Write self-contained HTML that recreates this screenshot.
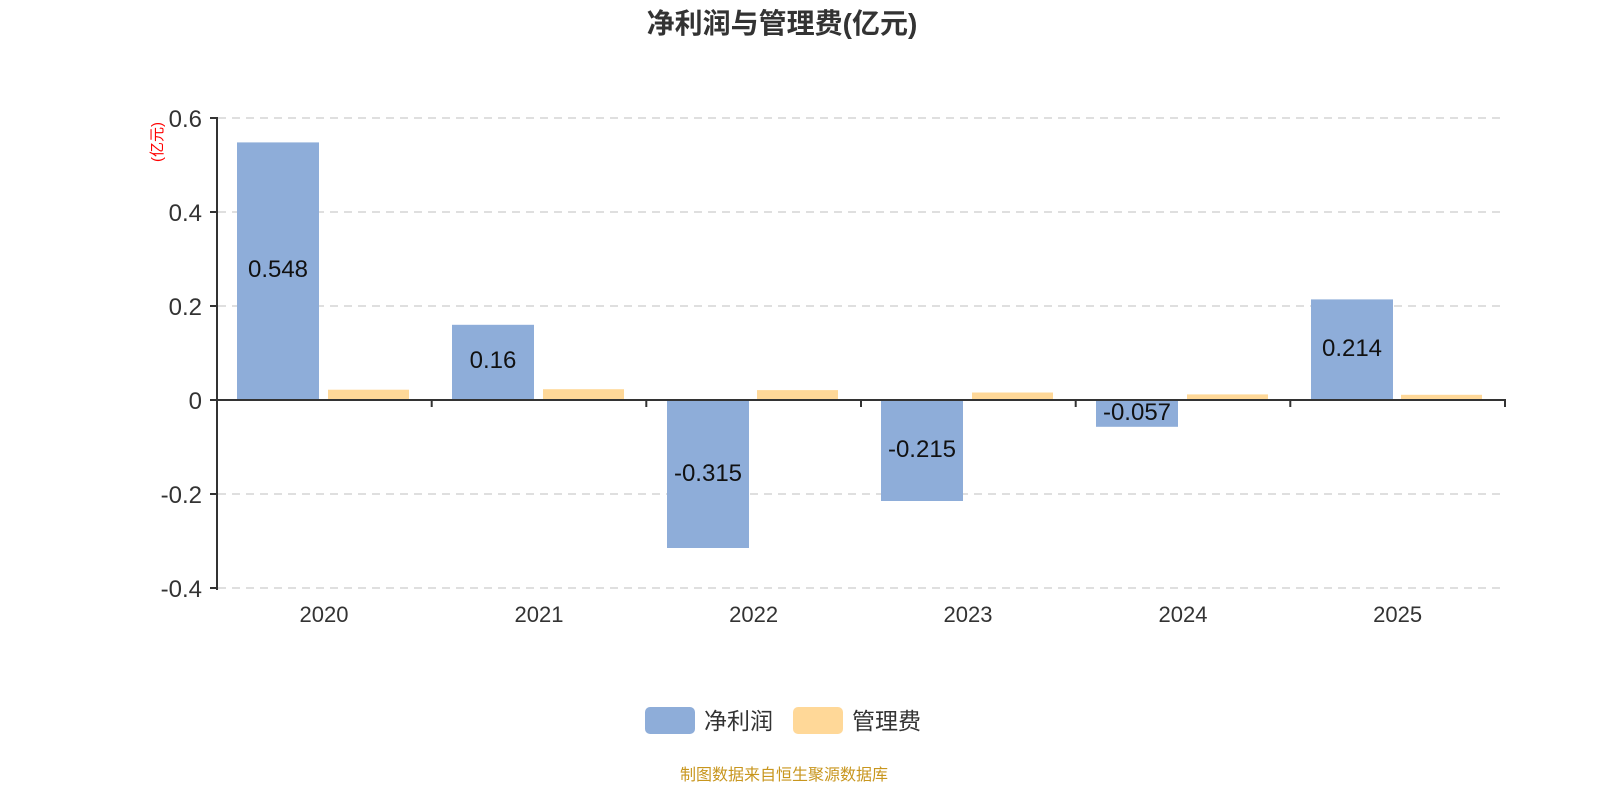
<!DOCTYPE html>
<html><head><meta charset="utf-8"><style>
body{margin:0;background:#fff;}
svg text{font-family:"Liberation Sans","Noto Sans CJK SC",sans-serif;}
</style></head><body>
<svg width="1600" height="800" viewBox="0 0 1600 800" xmlns="http://www.w3.org/2000/svg">
<text x="782" y="33" text-anchor="middle" font-size="28" font-weight="bold" fill="#333">净利润与管理费(亿元)</text>
<g stroke="#ccc" stroke-dasharray="8,6" stroke-width="1.3">
<line x1="218" y1="118" x2="1505" y2="118"/>
<line x1="218" y1="212" x2="1505" y2="212"/>
<line x1="218" y1="306" x2="1505" y2="306"/>
<line x1="218" y1="494" x2="1505" y2="494"/>
<line x1="218" y1="588" x2="1505" y2="588"/>
</g>
<g fill="#8eadd9">
<rect x="237" y="142.4" width="82" height="257.6"/>
<rect x="452" y="324.8" width="82" height="75.2"/>
<rect x="667" y="400" width="82" height="148"/>
<rect x="881" y="400" width="82" height="101"/>
<rect x="1096" y="400" width="82" height="26.8"/>
<rect x="1311" y="299.4" width="82" height="100.6"/>
</g>
<g fill="#ffd898">
<rect x="328" y="389.7" width="81" height="10.3"/>
<rect x="543" y="389.2" width="81" height="10.8"/>
<rect x="757" y="390.1" width="81" height="9.9"/>
<rect x="972" y="392.5" width="81" height="7.5"/>
<rect x="1187" y="394.4" width="81" height="5.6"/>
<rect x="1401" y="394.8" width="81" height="5.2"/>
</g>
<g stroke="#333" stroke-width="2">
<line x1="217" y1="117" x2="217" y2="590"/>
<line x1="216" y1="400" x2="1506" y2="400"/>
<line x1="210" y1="118" x2="217" y2="118"/>
<line x1="210" y1="212" x2="217" y2="212"/>
<line x1="210" y1="306" x2="217" y2="306"/>
<line x1="210" y1="400" x2="217" y2="400"/>
<line x1="210" y1="494" x2="217" y2="494"/>
<line x1="210" y1="588" x2="217" y2="588"/>
<line x1="431.7" y1="400" x2="431.7" y2="407"/>
<line x1="646.3" y1="400" x2="646.3" y2="407"/>
<line x1="861" y1="400" x2="861" y2="407"/>
<line x1="1075.7" y1="400" x2="1075.7" y2="407"/>
<line x1="1290.3" y1="400" x2="1290.3" y2="407"/>
<line x1="1505" y1="400" x2="1505" y2="407"/>
</g>
<g font-size="24" fill="#333" text-anchor="end">
<text x="202" y="127">0.6</text>
<text x="202" y="221">0.4</text>
<text x="202" y="315">0.2</text>
<text x="202" y="409">0</text>
<text x="202" y="503">-0.2</text>
<text x="202" y="597">-0.4</text>
</g>
<text transform="translate(162,142) rotate(-90)" font-size="15" fill="#f00" text-anchor="middle">(亿元)</text>
<g font-size="22" fill="#333" text-anchor="middle">
<text x="324" y="622">2020</text>
<text x="539" y="622">2021</text>
<text x="753.6" y="622">2022</text>
<text x="968" y="622">2023</text>
<text x="1183" y="622">2024</text>
<text x="1397.6" y="622">2025</text>
</g>
<g font-size="24" fill="#111" text-anchor="middle">
<text x="278" y="277">0.548</text>
<text x="493" y="368">0.16</text>
<text x="708" y="481">-0.315</text>
<text x="922" y="457">-0.215</text>
<text x="1137" y="420">-0.057</text>
<text x="1352" y="356">0.214</text>
</g>
<rect x="645" y="707" width="50" height="27" rx="5" fill="#8eadd9"/>
<text x="704" y="729" font-size="23" fill="#333">净利润</text>
<rect x="793" y="707" width="50" height="27" rx="5" fill="#ffd898"/>
<text x="852" y="729" font-size="23" fill="#333">管理费</text>
<text x="784" y="780" font-size="16" fill="#c8961e" text-anchor="middle">制图数据来自恒生聚源数据库</text>
</svg>
</body></html>
